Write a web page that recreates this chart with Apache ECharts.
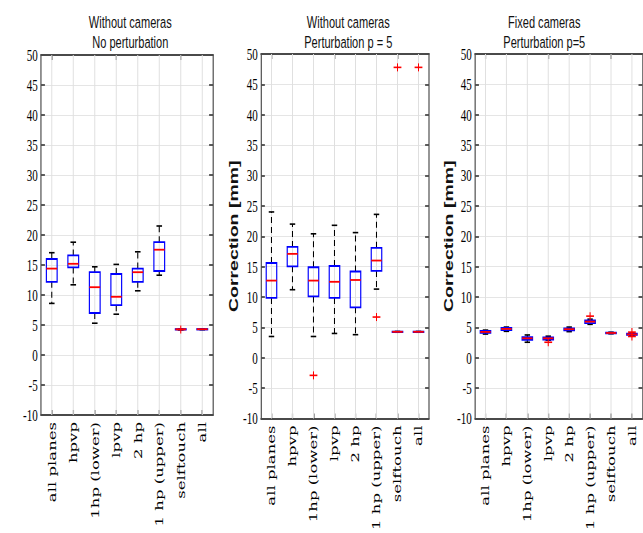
<!DOCTYPE html>
<html>
<head>
<meta charset="utf-8">
<script src="https://cdn.jsdelivr.net/npm/echarts@6/dist/echarts.min.js"></script>
<style>
  html, body { margin: 0; padding: 0; background: #fff; overflow: hidden; width: 643px; height: 533px; }
  /* the figure is laid out wide and then compressed horizontally */
  #chart { width: 990px; height: 533px; transform: scaleX(0.65); transform-origin: 0 0; }
</style>
</head>
<body>
<div id="chart"></div>
<script>
// ---- data ----
const categories = ['all planes', 'hpvp', '1hp (lower)', 'lpvp', '2 hp', '1 hp (upper)', 'selftouch', 'all'];
const yMin = -10, yMax = 50, yStep = 5;
const panelTitles = [
  'Without cameras\nNo perturbation',
  'Without cameras\nPerturbation p = 5',
  'Fixed cameras\nPerturbation p=5'
];
const yAxisName = 'Correction [mm]';

// box statistics per category: [lower whisker, Q1, median, Q3, upper whisker]
const noPertBoxes = [
  [8.6, 12.2, 14.4, 16.0, 17.05],
  [11.7, 14.6, 15.2, 16.6, 18.8],
  [5.3, 7.0, 11.3, 13.8, 14.7],
  [6.8, 8.3, 9.7, 13.5, 15.1],
  [10.7, 12.2, 13.8, 14.4, 17.2],
  [13.3, 14.0, 17.55, 18.8, 21.5],
  [4.18, 4.24, 4.28, 4.32, 4.36],
  [4.22, 4.26, 4.3, 4.33, 4.36]
];
// outliers: [category index, value]
const noPertOutliers = [[6, 4.25]];

const pert5Boxes = [
  [3.5, 9.85, 12.7, 15.6, 24.0],
  [11.2, 15.05, 17.1, 18.25, 22.0],
  [3.5, 10.1, 12.7, 14.9, 20.4],
  [4.0, 9.85, 12.5, 15.1, 21.8],
  [3.8, 8.3, 12.8, 14.2, 20.6],
  [11.3, 14.3, 16.0, 18.1, 23.6],
  [4.2, 4.24, 4.27, 4.3, 4.33],
  [4.2, 4.24, 4.27, 4.3, 4.33]
];
const pert5Outliers = [[2, -2.9], [5, 6.7], [6, 47.8], [7, 47.8]];

const fixedBoxes = [
  [3.9, 4.1, 4.25, 4.4, 4.55],
  [4.35, 4.55, 4.75, 4.9, 5.05],
  [2.55, 2.95, 3.2, 3.4, 3.75],
  [2.9, 3.0, 3.2, 3.35, 3.55],
  [4.3, 4.5, 4.7, 4.85, 5.05],
  [5.5, 5.7, 5.95, 6.15, 6.35],
  [3.95, 4.0, 4.08, 4.15, 4.2],
  [3.62, 3.75, 3.85, 3.95, 4.1]
];
const fixedOutliers = [[3, 2.55], [5, 6.85], [7, 4.22], [7, 3.5]];

const panelBoxes = [noPertBoxes, pert5Boxes, fixedBoxes];
const panelOutliers = [noPertOutliers, pert5Outliers, fixedOutliers];

// ---- layout (in the uncompressed coordinate space) ----
const grids = [
  { left: 63.1, top: 55, width: 264.6, height: 360 },
  { left: 401.5, top: 54, width: 258.5, height: 364.5 },
  { left: 730.8, top: 54, width: 257.5, height: 364.5 }
];
const titleCenters = [195.4, 530.8, 832.3];
const nameGaps = [0, 33, 28];

const axisColor = '#4a4a4a';
const gridColor = '#dfdfdf';

// ---- renderers ----
function renderColumnLine(params, api) {
  const cs = params.coordSys;
  const x = api.coord([api.value(0), 0])[0];
  return {
    type: 'line', silent: true,
    shape: { x1: x, y1: cs.y, x2: x, y2: cs.y + cs.height },
    style: { stroke: gridColor, lineWidth: 1.5 }
  };
}

function renderBox(params, api) {
  const i = api.value(0);
  const lo = api.coord([i, api.value(1)]);
  const q1 = api.coord([i, api.value(2)]);
  const md = api.coord([i, api.value(3)]);
  const q3 = api.coord([i, api.value(4)]);
  const hi = api.coord([i, api.value(5)]);
  const band = api.size([1, 0])[0];
  const x = lo[0];
  const hb = band * 0.25;   // half box width
  const hc = band * 0.13;   // half whisker-cap width
  const dash = { stroke: '#000', lineWidth: 1.6, lineDash: [6, 4], fill: null };
  const cap = { stroke: '#000', lineWidth: 1.6, fill: null };
  return {
    type: 'group',
    children: [
      { type: 'line', shape: { x1: x, y1: q3[1], x2: x, y2: hi[1] }, style: dash },
      { type: 'line', shape: { x1: x, y1: q1[1], x2: x, y2: lo[1] }, style: dash },
      { type: 'line', shape: { x1: x - hc, y1: hi[1], x2: x + hc, y2: hi[1] }, style: cap },
      { type: 'line', shape: { x1: x - hc, y1: lo[1], x2: x + hc, y2: lo[1] }, style: cap },
      { type: 'rect', shape: { x: x - hb, y: q3[1], width: 2 * hb, height: Math.max(q1[1] - q3[1], 0.5) },
        style: { stroke: '#0000ff', fill: null, lineWidth: 1.8 } },
      { type: 'line', shape: { x1: x - hb, y1: md[1], x2: x + hb, y2: md[1] },
        style: { stroke: '#ff0000', lineWidth: 1.8 } }
    ]
  };
}

function renderPlus(params, api) {
  const p = api.coord([api.value(0), api.value(1)]);
  const st = { stroke: '#ff0000', lineWidth: 1.6 };
  return {
    type: 'group',
    children: [
      { type: 'line', shape: { x1: p[0] - 6, y1: p[1], x2: p[0] + 6, y2: p[1] }, style: st },
      { type: 'line', shape: { x1: p[0], y1: p[1] - 4, x2: p[0], y2: p[1] + 4 }, style: st }
    ]
  };
}

// ---- option ----
const option = {
  animation: false,
  backgroundColor: '#fff',
  title: [], grid: [], xAxis: [], yAxis: [], series: []
};

for (let p = 0; p < 3; p++) {
  option.title.push({
    text: panelTitles[p],
    left: titleCenters[p], top: 7, textAlign: 'center',
    textStyle: { fontFamily: 'Liberation Sans', fontSize: 17, fontWeight: 'normal', color: '#111', lineHeight: 20 }
  });
  option.grid.push(Object.assign({ containLabel: false, outerBoundsMode: 'none' }, grids[p]));

  const lineStyle = { color: axisColor, width: 1.8 };
  // bottom category axis with rotated labels
  option.xAxis.push({
    type: 'category', gridIndex: p, data: categories, position: 'bottom',
    axisLine: { show: true, onZero: false, lineStyle },
    axisTick: { show: true, inside: true, alignWithLabel: true, length: 5, lineStyle },
    axisLabel: { rotate: 90, margin: 7, fontFamily: 'DejaVu Serif', fontSize: 16.5, color: '#000', interval: 0 },
    splitLine: { show: false }
  });
  // top mirror axis
  option.xAxis.push({
    type: 'category', gridIndex: p, data: categories, position: 'top',
    axisLine: { show: true, onZero: false, lineStyle },
    axisTick: { show: true, inside: true, alignWithLabel: true, length: 5, lineStyle },
    axisLabel: { show: false }, splitLine: { show: false }
  });
  option.yAxis.push({
    type: 'value', gridIndex: p, min: yMin, max: yMax, interval: yStep, position: 'left',
    name: p > 0 ? yAxisName : '', nameLocation: 'middle', nameGap: nameGaps[p],
    nameTextStyle: { fontFamily: 'Liberation Sans', fontSize: 19.5, fontWeight: 'bold', color: '#111' },
    axisLine: { show: true, onZero: false, lineStyle },
    axisTick: { show: true, inside: true, length: 6, lineStyle },
    axisLabel: { margin: 5, fontFamily: 'Liberation Serif', fontSize: 17, color: '#000' },
    splitLine: { show: true, lineStyle: { color: gridColor, width: 1 } }
  });
  option.yAxis.push({
    type: 'value', gridIndex: p, min: yMin, max: yMax, interval: yStep, position: 'right',
    axisLine: { show: true, onZero: false, lineStyle },
    axisTick: { show: true, inside: true, length: 6, lineStyle },
    axisLabel: { show: false }, splitLine: { show: false }
  });

  option.series.push({
    type: 'custom', xAxisIndex: 2 * p, yAxisIndex: 2 * p, z: 1, silent: true,
    data: categories.map((c, i) => [i, 0]), encode: { x: 0, y: 1 },
    renderItem: renderColumnLine
  });
  option.series.push({
    type: 'custom', xAxisIndex: 2 * p, yAxisIndex: 2 * p, z: 3,
    data: panelBoxes[p].map((b, i) => [i].concat(b)), encode: { x: 0, y: [1, 2, 3, 4, 5] },
    renderItem: renderBox
  });
  option.series.push({
    type: 'custom', xAxisIndex: 2 * p, yAxisIndex: 2 * p, z: 4,
    data: panelOutliers[p], encode: { x: 0, y: 1 },
    renderItem: renderPlus
  });
}

const chart = echarts.init(document.getElementById('chart'), null, { renderer: 'svg' });
chart.setOption(option);
</script>
</body>
</html>
